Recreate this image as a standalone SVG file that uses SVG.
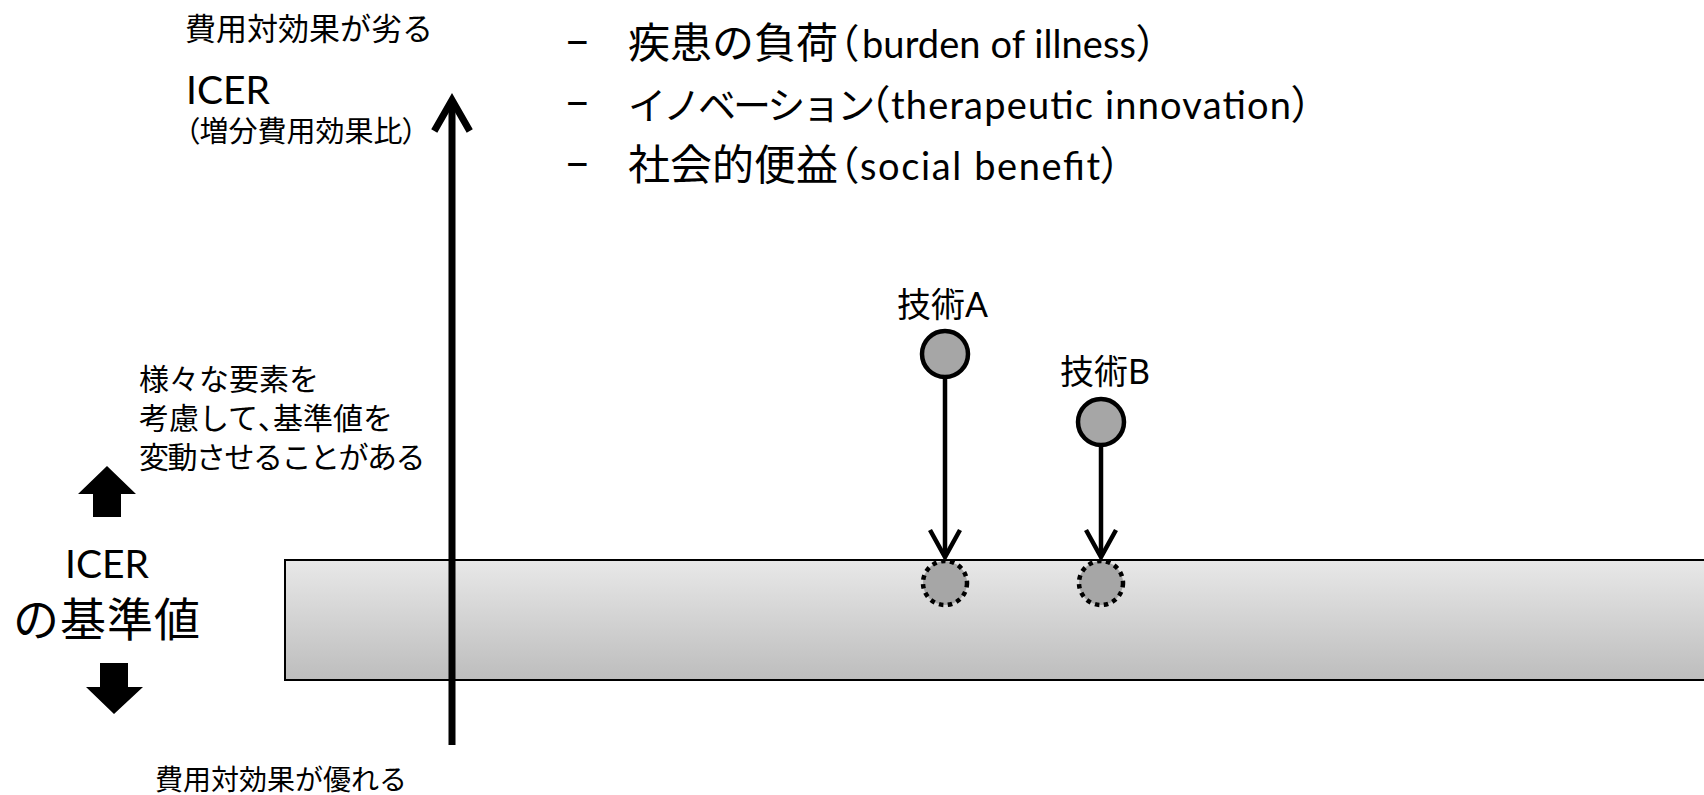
<svg xmlns="http://www.w3.org/2000/svg" width="1704" height="795" viewBox="0 0 1704 795">
<style>
.jp{font-family:"Noto Sans CJK JP",sans-serif;fill:#000}
.lt{font-family:Lato,"Noto Sans CJK JP",sans-serif;fill:#000}
.pp{font-feature-settings:"palt"}
.node{fill:#a6a6a6;stroke:#000;stroke-width:4.5}
.ghost{fill:#a6a6a6;stroke:#000;stroke-width:4.5;stroke-dasharray:4.5 4.5}
.conn{fill:none;stroke:#000;stroke-width:4.5}
</style>
<defs>
<linearGradient id="band" x1="0" y1="0" x2="0" y2="1">
<stop offset="0" stop-color="#e8e8e8"/>
<stop offset="1" stop-color="#bdbdbd"/>
</linearGradient>
</defs>
<rect width="1704" height="795" fill="#fff"/>
<g id="band-node">
<rect x="285" y="560" width="1440" height="120" fill="url(#band)" stroke="#000" stroke-width="2"/>
</g>
<g id="axis">
<line x1="452" y1="745" x2="452" y2="102" stroke="#000" stroke-width="7"/>
<polyline points="436,128 452,100 468,128" fill="none" stroke="#000" stroke-width="7" stroke-linecap="square"/>
</g>
<g id="axis-labels">
<text class="jp" x="185" y="40" font-size="31">費用対効果が劣る</text>
<text class="lt" x="186" y="104" font-size="39">ICER</text>
<text class="jp" x="185" y="142" font-size="29"><tspan class="pp">（</tspan>増分費用効果比<tspan class="pp">）</tspan></text>
<text class="jp" x="155" y="790" font-size="28">費用対効果が優れる</text>
</g>
<g id="criteria">
<text class="lt" x="564" y="56" font-size="46">–</text>
<text class="lt" x="564" y="117" font-size="46">–</text>
<text class="lt" x="564" y="178" font-size="46">–</text>
<text class="jp" x="628" y="58" font-size="42">疾患の負荷</text>
<text class="jp pp" x="838" y="58" font-size="40">（</text>
<text class="lt" x="862" y="58" font-size="38" textLength="274" lengthAdjust="spacing">burden of illness</text>
<text class="jp pp" x="1137" y="58" font-size="40">）</text>
<text class="jp" x="628" y="119" font-size="38" letter-spacing="-3">イノベーション</text>
<text class="jp pp" x="869" y="119" font-size="40">（</text>
<text class="lt" x="891" y="119" font-size="38" textLength="400" lengthAdjust="spacing">therapeutic innovation</text>
<text class="jp pp" x="1292" y="119" font-size="40">）</text>
<text class="jp" x="628" y="180" font-size="42">社会的便益</text>
<text class="jp pp" x="838" y="180" font-size="40">（</text>
<text class="lt" x="860" y="180" font-size="38" textLength="240" lengthAdjust="spacing">social benefit</text>
<text class="jp pp" x="1101" y="180" font-size="40">）</text>
</g>
<g id="threshold-label">
<text class="jp" x="139" y="390" font-size="30">様々な要素を</text>
<text class="jp" x="139" y="429" font-size="30">考慮して<tspan class="pp">、</tspan>基準値を</text>
<text class="jp" x="139" y="468" font-size="30" letter-spacing="-1.5">変動させることがある</text>
<polygon points="107,466 136,494 121,494 121,517 93,517 93,494 78,494" fill="#000"/>
<text class="lt" x="65" y="578" font-size="39">ICER</text>
<text class="jp" x="13" y="636" font-size="46" letter-spacing="1">の基準値</text>
<polygon points="100,663 128,663 128,687 143,687 114,714 86,687 100,687" fill="#000"/>
</g>
<g id="tech-a">
<text class="lt" x="897" y="317" font-size="34"><tspan class="jp">技術</tspan>A</text>
<circle class="node" cx="945" cy="354" r="23"/>
</g>
<g id="tech-a-adjusted">
<circle class="ghost" cx="945" cy="583" r="22"/>
</g>
<g id="tech-b">
<text class="lt" x="1060" y="384" font-size="34"><tspan class="jp">技術</tspan>B</text>
<circle class="node" cx="1101" cy="422" r="23"/>
</g>
<g id="tech-b-adjusted">
<circle class="ghost" cx="1101" cy="583" r="22"/>
</g>
<g id="connectors">
<line class="conn" x1="945" y1="377" x2="945" y2="554"/>
<polyline class="conn" points="930,530 945,557 960,530"/>
<line class="conn" x1="1101" y1="445" x2="1101" y2="554"/>
<polyline class="conn" points="1086,530 1101,557 1116,530"/>
</g>
</svg>
